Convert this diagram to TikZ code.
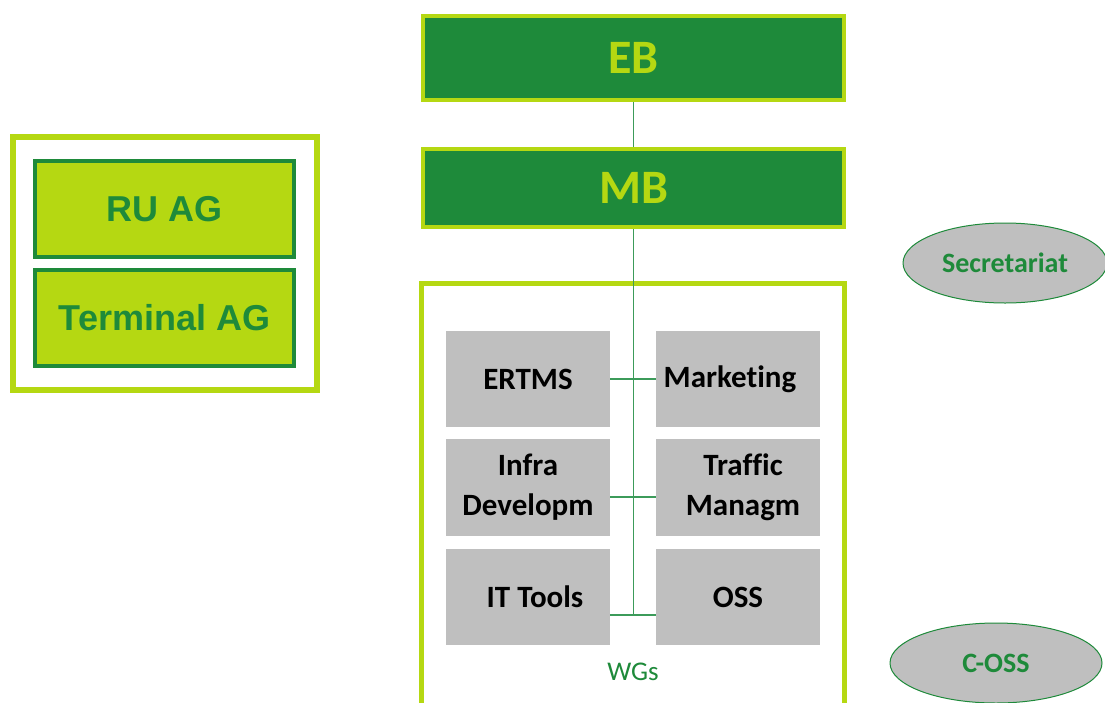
\documentclass[tikz,border=0pt]{standalone}
\usepackage{fontspec}
\setmainfont[Ligatures=NoCommon]{Carlito}
\newfontfamily\arialf{Liberation Sans}
\usetikzlibrary{shapes.geometric,calc}
\definecolor{dkgreen}{RGB}{30,138,58}
\definecolor{lime}{RGB}{181,216,18}
\definecolor{boxgray}{RGB}{191,191,191}
\definecolor{linegreen}{RGB}{60,155,90}
\tikzset{
  board/.style={draw=lime, fill=dkgreen, line width=4pt, minimum width=421pt, inner sep=0pt,
    text=lime, font=\bfseries\fontsize{48}{50}\selectfont},
  agbox/.style={draw=dkgreen, fill=lime, line width=4pt, minimum width=259pt, minimum height=96pt,
    inner sep=0pt, text=dkgreen, font=\arialf\bfseries\fontsize{36}{40}\selectfont},
  frame/.style={draw=lime, line width=5pt, inner sep=0pt},
  wg/.style={fill=boxgray, minimum width=164pt, inner sep=0pt, align=center,
    font=\bfseries\fontsize{31}{40}\selectfont},
  oval/.style={ellipse, draw=dkgreen, line width=1pt, fill=boxgray, inner sep=0pt,
    text=dkgreen, font=\bfseries\fontsize{28}{30}\selectfont},
  conn/.style={draw=linegreen, line width=1.5pt}
}
\begin{document}
\begin{tikzpicture}[x=1pt,y=-1pt]
\clip (0,0) rectangle (1105,702);
\fill[white] (0,0) rectangle (1105,702);
% left advisory panel
\node[frame, line width=6pt, minimum width=304pt, minimum height=253pt] (agpanel) at (165,263.5) {};
\node[agbox] (ruag) at (164.5,209) {RU AG};
\node[agbox] (termag) at (164.5,318) {Terminal AG};
% boards
\node[board, minimum height=84pt] (eb) at (633.5,58) {EB};
\node[board, minimum height=78pt] (mb) at (633.5,188) {MB};
% WG container
\node[frame, minimum width=423pt, minimum height=447pt] (wgbox) at (633,506.5) {};
\node[text=dkgreen, font=\fontsize{27}{30}\selectfont] (wglabel) at (633,672) {WGs};
% working groups
\node[wg, minimum height=96pt] (ertms) at (528,379) {ERTMS};
\node[wg, minimum height=96pt] (marketing) at (738,379) {\hspace*{-16pt}Marketing};
\node[wg, minimum height=97pt] (infra) at (528,487.5) {Infra\\Developm};
\node[wg, minimum height=97pt] (traffic) at (738,487.5) {\hspace*{10pt}Traffic\\\hspace*{10pt}Managm};
\node[wg, minimum height=96pt] (ittools) at (528,597) {\hspace*{14pt}IT Tools};
\node[wg, minimum height=96pt] (oss) at (738,597) {OSS};
% ellipses
\node[oval, minimum width=204pt, minimum height=80pt] (secr) at (1005,263) {Secretariat};
\node[oval, minimum width=212pt, minimum height=80pt] (coss) at (996,663) {C-OSS};
% connectors
\coordinate (vend) at ($(mb.south)+(0,385)$);
\draw[conn] (eb.south) -- (mb.north);
\draw[conn] (mb.south) -- (vend);
\draw[conn] (ertms.east) -- (marketing.west);
\draw[conn] ($(infra.east)+(0,9.5)$) -- ($(traffic.west)+(0,9.5)$);
\draw[conn] ($(ittools.east)+(0,18)$) -- ($(oss.west)+(0,18)$);
\end{tikzpicture}
\end{document}
